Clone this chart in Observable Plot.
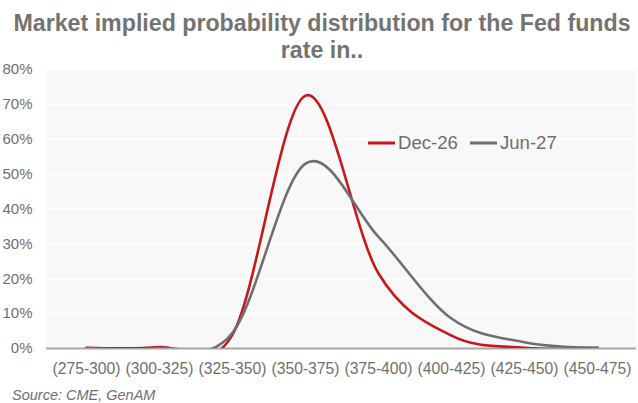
<!DOCTYPE html>
<html><head><meta charset="utf-8">
<script src="https://cdn.jsdelivr.net/npm/d3@7"></script>
<script src="https://cdn.jsdelivr.net/npm/@observablehq/plot@0.6"></script>
<style>
body{margin:0;background:#fff;font-family:"Liberation Sans",Arial,sans-serif;}
#wrap{position:relative;width:638px;height:403px;overflow:hidden;}
#title{position:absolute;left:0;top:10px;width:644px;text-align:center;font-weight:700;font-size:23.2px;line-height:27px;color:#737373;white-space:nowrap;}
#chart{position:absolute;left:0;top:58px;height:320px;}
#legend{position:absolute;left:368px;top:132px;font-size:18.6px;line-height:22px;color:#6f6f6f;display:flex;align-items:center;white-space:nowrap;}
#legend .item{display:flex;align-items:center;margin-right:12px;}
#legend svg{margin-right:3px;}
#caption{position:absolute;left:12px;top:387px;font-size:14.5px;font-style:italic;color:#6f6f6f;white-space:nowrap;}
</style></head><body>
<div id="wrap">
<div id="chart"></div>
<div id="title">Market implied probability distribution for the Fed funds<br>rate in..</div>
<div id="legend"></div>
<div id="caption">Source: CME, GenAM</div>
</div>
<script>
const categories = ["(275-300)","(300-325)","(325-350)","(350-375)","(375-400)","(400-425)","(425-450)","(450-475)"];
const seriesNames = ["Dec-26","Jun-27"];
const seriesColors = ["#c8161d","#6f6f6f"];
const dec26 = [0.2, 0.4, 4, 72.5, 21.5, 3.7, 0.2, 0.2];
const jun27 = [0.1, 0.1, 4.5, 53, 32, 8.6, 1.8, 0.2];
const yTicks = [0,10,20,30,40,50,60,70,80];

const rows = [];
categories.forEach((c,i)=>{
  rows.push({cat:c, value:dec26[i], series:seriesNames[0]});
});
categories.forEach((c,i)=>{
  rows.push({cat:c, value:jun27[i], series:seriesNames[1]});
});

const chart = Plot.plot({
  width:638, height:320,
  marginTop:11, marginBottom:30, marginLeft:46, marginRight:2,
  style:{background:"transparent", fontFamily:'"Liberation Sans",Arial,sans-serif', color:"#6f6f6f"},
  x:{type:"point", domain:categories, padding:0.5, axis:null},
  y:{domain:[0,80], axis:null},
  color:{domain:seriesNames, range:seriesColors},
  marks:[
    Plot.frame({fill:"#f8f8f8", stroke:null}),
    Plot.gridY(yTicks.slice(1), {stroke:"#ffffff", strokeOpacity:1, strokeWidth:1.3}),
    Plot.ruleY([0], {stroke:"#a6a6a6", strokeWidth:2}),
    Plot.line(rows, {x:"cat", y:"value", z:"series", stroke:"series", curve:"cardinal", clip:true, strokeWidth:2.6}),
    Plot.axisX({tickSize:0, tickPadding:14, fontSize:15.7, label:null, fill:"#6f6f6f"}),
    Plot.axisY({ticks:yTicks, tickSize:0, tickPadding:14, fontSize:15, label:null, tickFormat:d=>d+"%", fill:"#6f6f6f"})
  ]
});
document.getElementById("chart").appendChild(chart);

const legend = document.getElementById("legend");
seriesNames.forEach((n,i)=>{
  const it = document.createElement("div");
  it.className="item";
  it.innerHTML = `<svg width="27" height="6"><line x1="0" y1="3" x2="27" y2="3" stroke="${seriesColors[i]}" stroke-width="3"/></svg><span>${n}</span>`;
  legend.appendChild(it);
});
</script>
</body></html>
